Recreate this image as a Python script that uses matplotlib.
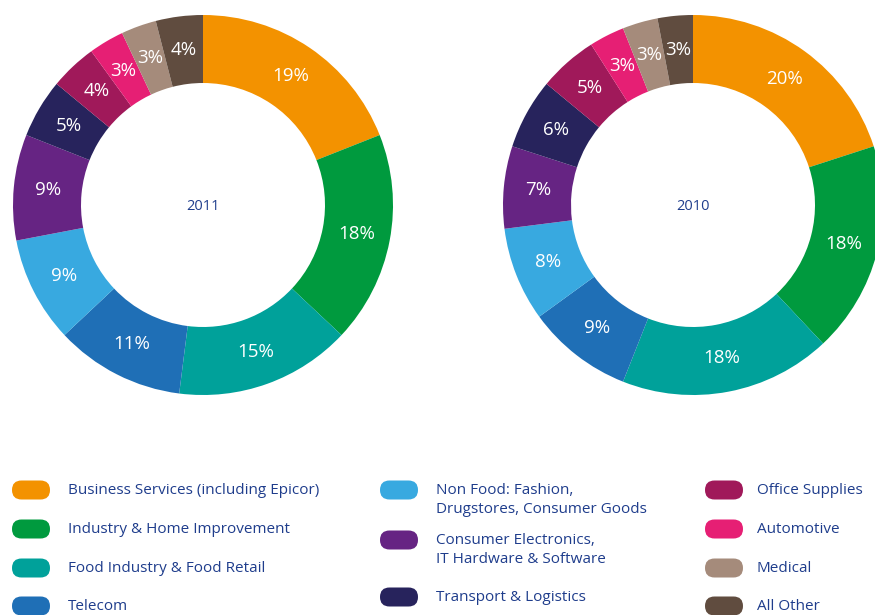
import matplotlib
matplotlib.use("Agg")
import matplotlib.pyplot as plt
from matplotlib.patches import FancyBboxPatch

categories = ["Business Services (including Epicor)", "Industry & Home Improvement",
              "Food Industry & Food Retail", "Telecom",
              "Non Food: Fashion,\nDrugstores, Consumer Goods",
              "Consumer Electronics,\nIT Hardware & Software", "Transport & Logistics",
              "Office Supplies", "Automotive", "Medical", "All Other"]
colors = ["#F39200", "#009A3E", "#00A19A", "#1F6FB6", "#38A9E0", "#662483",
          "#27235C", "#A0195A", "#E61F74", "#A58B7B", "#604C3F"]
share_2011 = [19, 18, 15, 11, 9, 9, 5, 4, 3, 3, 4]
share_2010 = [20, 18, 18, 9, 8, 7, 6, 5, 3, 3, 3]
years = ["2011", "2010"]

txt_col = "#1f3d8c"
plt.rcParams['font.family'] = ['Open Sans', 'DejaVu Sans']

W, H = 875, 615
fig = plt.figure(figsize=(W / 100, H / 100), dpi=100)
ax = fig.add_axes([0, 0, 1, 1])

# donuts (y axis is flipped, so counterclock=True draws clockwise on screen, start at top = -90)
R, ring = 190, 68
for vals, yr, cx in [(share_2011, years[0], 203), (share_2010, years[1], 693)]:
    wedges, _, autotexts = ax.pie(vals, colors=colors, center=(cx, 205), radius=R,
                                  startangle=-90, counterclock=True,
                                  wedgeprops=dict(width=ring, linewidth=0),
                                  autopct="%d%%", pctdistance=(R - ring / 2) / R,
                                  textprops=dict(color="white", fontsize=13.5),
                                  frame=True)
    ax.text(cx, 206, yr, ha="center", va="center", color=txt_col, fontsize=10.5)

ax.set_xlim(0, W)
ax.set_ylim(H, 0)
ax.set_aspect("equal")
ax.axis("off")

# legend
cols = [(12, 68, [490, 529, 568, 606]),
        (380, 436, [490, 540, 597]),
        (705, 757, [490, 529, 568, 606])]
groups = [range(0, 4), range(4, 7), range(7, 11)]
for (px, tx, ys), idx in zip(cols, groups):
    for y, i in zip(ys, idx):
        ax.add_patch(FancyBboxPatch((px, y - 9.5), 38, 19,
                                    boxstyle="round,pad=0,rounding_size=9.5",
                                    fc=colors[i], ec="none"))
        ax.text(tx, y - 7, categories[i], ha="left", va="top", color=txt_col,
                fontsize=11, linespacing=1.32)

fig.savefig("out.png", dpi=100)
